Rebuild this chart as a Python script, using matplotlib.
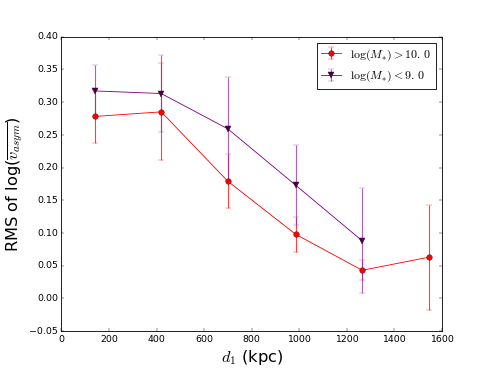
import matplotlib
matplotlib.use("Agg")
import matplotlib.pyplot as plt

plt.style.use('classic')

d1_hi = [140, 420, 700, 985, 1265, 1545]
rms_hi = [0.278, 0.285, 0.179, 0.098, 0.043, 0.063]
err_hi = [0.041, 0.074, 0.041, 0.027, 0.015, 0.080]

d1_lo = [140, 420, 700, 985, 1265]
rms_lo = [0.317, 0.313, 0.259, 0.173, 0.088]
err_lo = [0.040, 0.059, 0.080, 0.061, 0.080]

fig = plt.figure(figsize=(8, 6), dpi=491/8)
ax = fig.add_axes([0.125, 0.1, 0.775, 0.8])

ax.errorbar(d1_hi, rms_hi, yerr=err_hi, color='red', marker='o', markersize=6.5,
            markerfacecolor='red', markeredgecolor='#550000', ecolor=(1, 0, 0, 0.75),
            elinewidth=1.3, capsize=3, label=r'$\log(M_{*})>10.\,0$')
ax.errorbar(d1_lo, rms_lo, yerr=err_lo, color='purple', marker='v', markersize=6.5,
            markerfacecolor='#4b0040', markeredgecolor='#300030', ecolor=(0.6, 0.15, 0.7, 0.75),
            elinewidth=1.3, capsize=3, label=r'$\log(M_{*})<9.\,0$')

ax.set_xlim(0, 1600)
ax.set_ylim(-0.05, 0.40)
ax.set_xticks(range(0, 1601, 200))
ax.set_yticks([-0.05, 0.0, 0.05, 0.10, 0.15, 0.20, 0.25, 0.30, 0.35, 0.40])
ax.set_yticklabels(['\u22120.05', '0.00', '0.05', '0.10', '0.15', '0.20', '0.25', '0.30', '0.35', '0.40'])
ax.tick_params(labelsize=11)
ax.set_xlabel(r'$d_1$ (kpc)', fontsize=19)
ax.set_ylabel(r'RMS of log($\overline{v_{asym}}$)', fontsize=19)
ax.legend(loc='upper right', numpoints=1, fontsize=14, handlelength=1.6)

fig.savefig('out.png', dpi=491/8)
